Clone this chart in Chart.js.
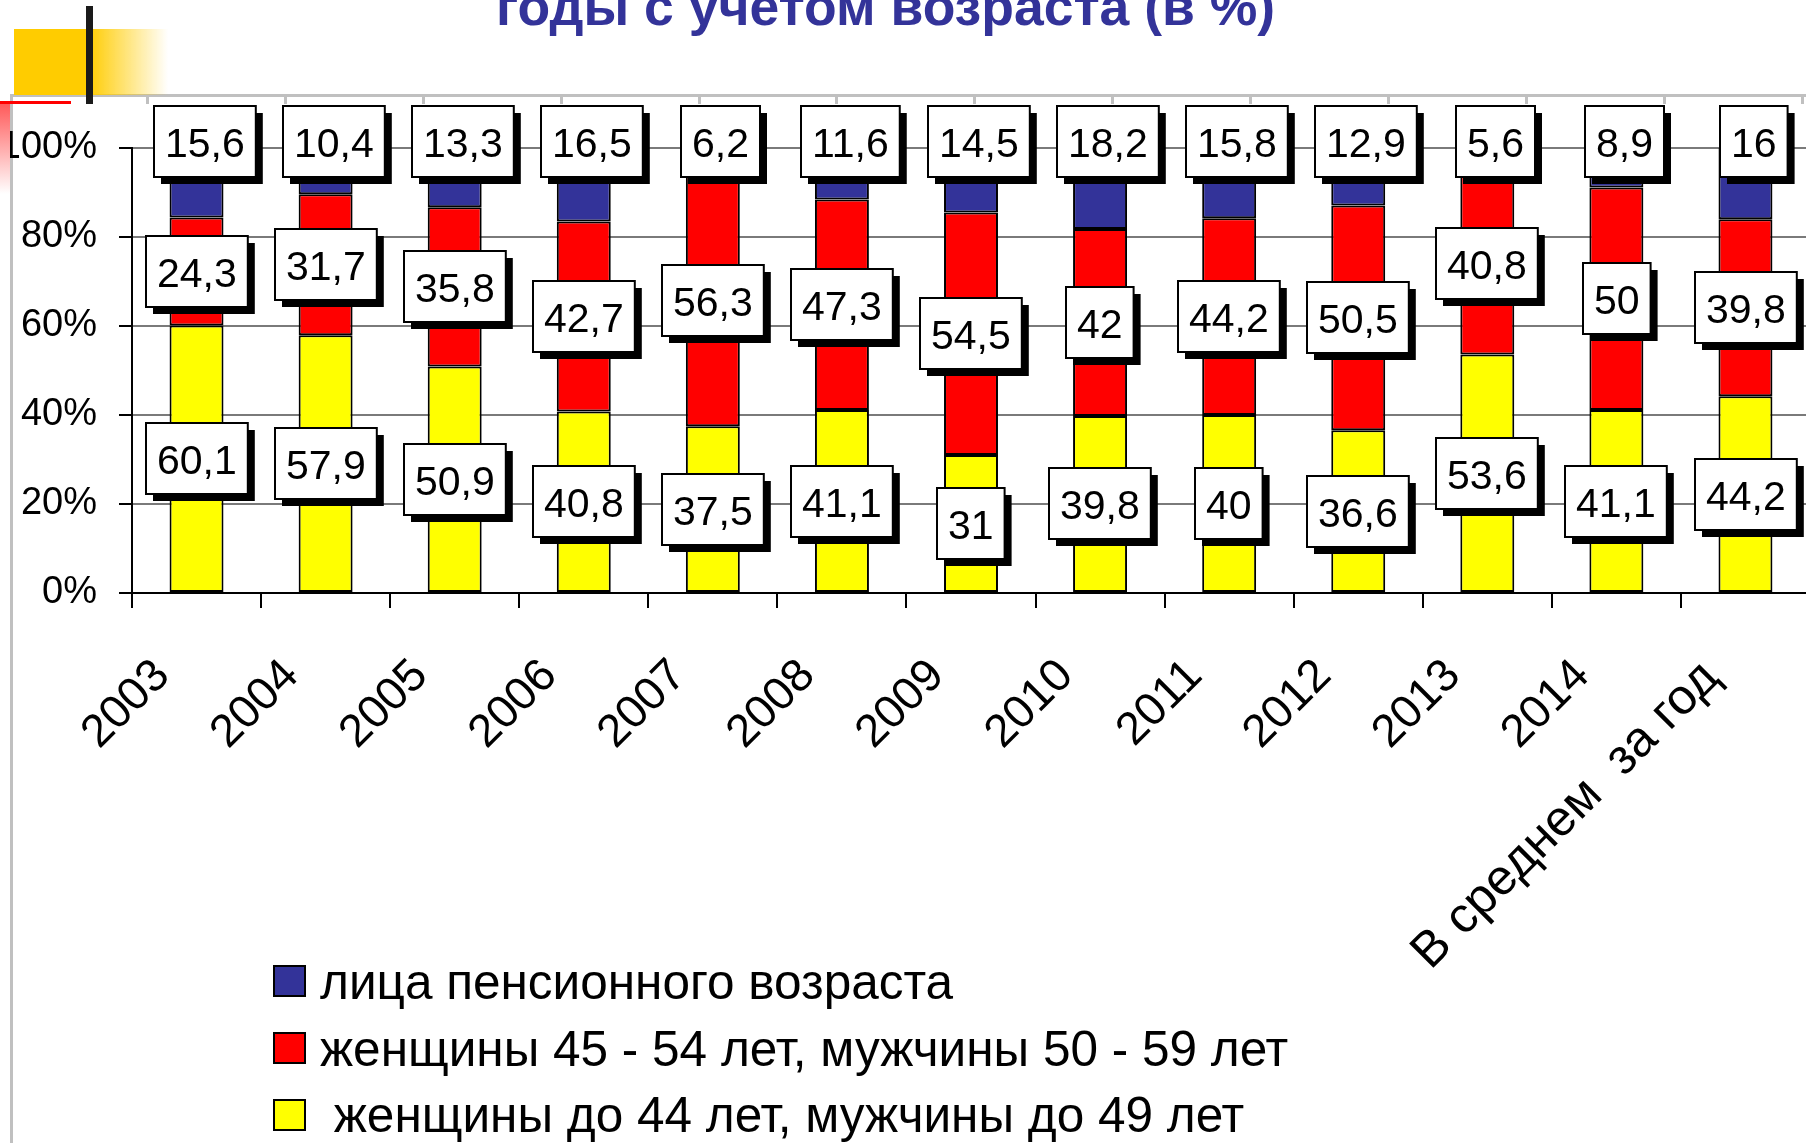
<!DOCTYPE html>
<html>
<head>
<meta charset="utf-8">
<script src="https://cdn.jsdelivr.net/npm/chart.js@4.4.1/dist/chart.umd.min.js"></script>
<style>
  html, body { margin: 0; padding: 0; background: #fff; overflow: hidden; width: 1806px; height: 1143px; }
  body { position: relative; font-family: "Liberation Sans", Arial, sans-serif; }
  .abs { position: absolute; }
  #frame { left: 10px; top: 94px; width: 1820px; height: 1100px; border: 3px solid #c0c0c0; background: #fff; }
  #colticks { left: 146px; top: 96px; width: 1660px; height: 8px;
    background: repeating-linear-gradient(to right, #c0c0c0 0 3px, transparent 3px 137.9px); }
  #yellow { left: 14px; top: 29px; width: 74px; height: 66px; background: #ffcc00; }
  #yellowfade { left: 88px; top: 29px; width: 80px; height: 66px; background: linear-gradient(to right, #ffcc00, rgba(255,204,0,0)); }
  #redline { left: 0; top: 101px; width: 71px; height: 3px; background: #ff0000; }
  #pink { left: 0; top: 104px; width: 10px; height: 90px; background: linear-gradient(to bottom, #ff5a5a, #fff); }
  #bar { left: 86px; top: 6px; width: 7px; height: 98px; background: #1a1a1a; }
  #title { left: 496px; top: -20px; font-weight: bold; font-size: 53.5px; line-height: 1; color: #333399; white-space: pre; }
  #chart { position: absolute; left: 0; top: 0; }
  #legend { left: 273px; top: 948px; }
  .item { height: 66.8px; display: flex; align-items: center; font-size: 49.5px; color: #000; white-space: pre; }
  .sw { width: 29px; height: 28px; border: 2px solid #000; margin-right: 14px; flex: none; }
</style>
</head>
<body>
<div id="frame" class="abs"></div>
<div id="colticks" class="abs"></div>
<canvas id="chart" width="1812" height="1143"></canvas>
<div id="yellow" class="abs"></div>
<div id="yellowfade" class="abs"></div>
<div id="redline" class="abs"></div>
<div id="pink" class="abs"></div>
<div id="bar" class="abs"></div>
<div id="title" class="abs">годы с учетом возраста (в %)</div>
<div id="legend" class="abs"></div>
<script>
const categories = ["2003", "2004", "2005", "2006", "2007", "2008", "2009", "2010", "2011", "2012", "2013", "2014", "В среднем  за год"];
const young = [60.1, 57.9, 50.9, 40.8, 37.5, 41.1, 31, 39.8, 40, 36.6, 53.6, 41.1, 44.2];
const middle = [24.3, 31.7, 35.8, 42.7, 56.3, 47.3, 54.5, 42, 44.2, 50.5, 40.8, 50, 39.8];
const pension = [15.6, 10.4, 13.3, 16.5, 6.2, 11.6, 14.5, 18.2, 15.8, 12.9, 5.6, 8.9, 16];
const seriesNames = [" женщины до 44 лет, мужчины до 49 лет", "женщины 45 - 54 лет, мужчины 50 - 59 лет", "лица пенсионного возраста"];
const yTicks = [0, 20, 40, 60, 80, 100];

const FONT = '"Liberation Sans", Arial, sans-serif';

// white boxes with a hard black shadow, like the Excel data labels
const boxLabels = {
  id: 'boxLabels',
  afterDatasetsDraw(chart) {
    const ctx = chart.ctx;
    const yScale = chart.scales.y;
    ctx.save();
    ctx.font = '41px ' + FONT;
    ctx.textAlign = 'center';
    ctx.textBaseline = 'alphabetic';
    chart.data.datasets.forEach((ds, di) => {
      chart.getDatasetMeta(di).data.forEach((bar, i) => {
        const txt = String(ds.data[i]).replace('.', ',');
        const w = ctx.measureText(txt).width + 22;
        const h = 71;
        let cx = bar.x;
        let cy = (bar.y + bar.base) / 2;
        if (di === 2) {
          cx += 8;
          cy = yScale.getPixelForValue(100) - 7;
        }
        const x0 = Math.round(cx - w / 2), y0 = Math.round(cy - h / 2);
        ctx.fillStyle = '#000';
        ctx.fillRect(x0 + 7, y0 + 7, w, h);
        ctx.fillStyle = '#fff';
        ctx.fillRect(x0, y0, w, h);
        ctx.lineWidth = 2;
        ctx.strokeStyle = '#000';
        ctx.strokeRect(x0, y0, w, h);
        ctx.fillStyle = '#000';
        ctx.fillText(txt, x0 + w / 2, y0 + h / 2 + 15);
      });
    });
    ctx.restore();
  }
};

const chart = new Chart(document.getElementById('chart'), {
  type: 'bar',
  data: {
    labels: categories,
    datasets: [
      { label: seriesNames[0], data: young, backgroundColor: '#ffff00' },
      { label: seriesNames[1], data: middle, backgroundColor: '#ff0000' },
      { label: seriesNames[2], data: pension, backgroundColor: '#333399' }
    ].map(d => Object.assign(d, { borderColor: '#000', borderWidth: 2, borderSkipped: false, barPercentage: 0.418, categoryPercentage: 1 }))
  },
  options: {
    responsive: false,
    animation: false,
    layout: { padding: { top: 148, right: 2, left: 0, bottom: 0 } },
    plugins: { legend: { display: false }, tooltip: { enabled: false } },
    scales: {
      x: {
        stacked: true,
        grid: { offset: true, drawOnChartArea: false, tickLength: 15, tickColor: '#000', lineWidth: 2 },
        border: { color: '#000', width: 2 },
        ticks: {
          minRotation: 45, maxRotation: 45, autoSkip: false, padding: 41, labelOffset: -34, color: '#000',
          // the Cyrillic label renders a bit wider in the original
          font: c => ({ size: c.index === categories.length - 1 ? 50 : 46, family: FONT })
        },
        afterFit: s => { s.height = 550; s.paddingLeft = 0; s.paddingRight = 0; }
      },
      y: {
        stacked: true,
        min: 0,
        max: 100,
        afterBuildTicks: s => { s.ticks = yTicks.map(v => ({ value: v })); },
        ticks: { callback: v => v + '%', padding: 22, color: '#000', font: { size: 38, family: FONT } },
        grid: { color: '#7a7a7a', lineWidth: 2, tickColor: '#000', tickLength: 13 },
        border: { color: '#000', width: 2 },
        afterFit: s => { s.width = 132; }
      }
    }
  },
  plugins: [boxLabels]
});

// legend built from the chart's own datasets, top row = top of the stack
const legend = document.getElementById('legend');
chart.data.datasets.slice().reverse().forEach(ds => {
  const row = document.createElement('div');
  row.className = 'item';
  const sw = document.createElement('span');
  sw.className = 'sw';
  sw.style.background = ds.backgroundColor;
  row.appendChild(sw);
  row.appendChild(document.createTextNode(ds.label));
  legend.appendChild(row);
});
</script>
</body>
</html>
